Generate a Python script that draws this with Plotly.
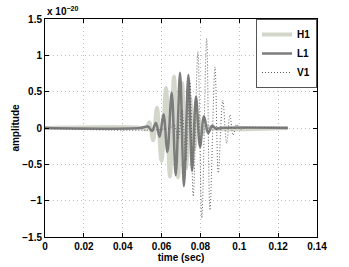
import plotly.graph_objects as go

# ---- data (amplitude in units of 1e-20) ----
t_end = 0.125

h1_t = [0.0, 0.0504, 0.0520, 0.0537, 0.0557, 0.0576, 0.0600, 0.0623, 0.0643, 0.0664,
        0.0685, 0.0705, 0.0726, 0.0746, 0.0767, 0.0787, 0.0808, 0.0829, 0.0849, t_end]
h1_a = [0.0, 0.0, -0.02, 0.08, -0.17, 0.28, -0.45, 0.55, -0.67, 0.71,
        -0.68, 0.62, -0.55, 0.42, -0.30, 0.17, -0.08, 0.03, 0.0, 0.0]

l1_t = [0.0, 0.0489, 0.0530, 0.0551, 0.0571, 0.0590, 0.0610, 0.0630, 0.0652, 0.0673,
        0.0695, 0.0715, 0.0738, 0.0757, 0.0777, 0.0798, 0.0818, 0.0840, 0.0860, 0.0880,
        0.0901, t_end]
l1_a = [0.0, 0.0, 0.02, -0.04, 0.07, -0.12, 0.19, -0.33, 0.49, -0.65,
        0.76, -0.80, 0.73, -0.59, 0.43, -0.26, 0.16, -0.07, 0.03, -0.01,
        0.0, 0.0]

v1_t = [0.0, 0.0643, 0.0664, 0.0685, 0.0705, 0.0726, 0.0746, 0.0763, 0.0787, 0.0807,
        0.0832, 0.0849, 0.0875, 0.0892, 0.0915, 0.0935, 0.0952, 0.0968, 0.0987, 0.1004,
        0.1024, t_end]
v1_a = [0.0, 0.0, 0.05, -0.15, 0.25, -0.45, 0.65, -0.94, 1.05, -1.24,
        1.23, -1.13, 0.84, -0.62, 0.38, -0.21, 0.18, -0.10, 0.05, -0.02,
        0.0, 0.0]

x_ticks = [0, 0.02, 0.04, 0.06, 0.08, 0.1, 0.12, 0.14]
x_ticktext = ["0", "0.02", "0.04", "0.06", "0.08", "0.1", "0.12", "0.14"]
y_ticks = [-1.5, -1, -0.5, 0, 0.5, 1, 1.5]
y_ticktext = ["\u22121.5", "\u22121", "\u22120.5", "0", "0.5", "1", "1.5"]

FONT = "Liberation Sans"
TXT = dict(family=FONT, size=10, color="black", weight="bold")

fig = go.Figure()
fig.add_trace(go.Scatter(x=h1_t, y=h1_a, name="H1", mode="lines",
                         line=dict(color="#d3d7cb", width=4, shape="spline", smoothing=1.0)))
fig.add_trace(go.Scatter(x=l1_t, y=l1_a, name="L1", mode="lines",
                         line=dict(color="#7c7c7c", width=2.5, shape="spline", smoothing=1.0)))
fig.add_trace(go.Scatter(x=v1_t, y=v1_a, name="V1", mode="lines",
                         line=dict(color="#5f5f5f", width=1, dash="1px,2px", shape="spline", smoothing=1.0)))

axis_common = dict(
    showline=True, linecolor="black", linewidth=1, mirror="ticks",
    ticks="inside", ticklen=4, tickcolor="black",
    showgrid=True, gridcolor="#bdbdbd", griddash="1px,3px", gridwidth=1,
    zeroline=False, automargin=False,
    tickfont=TXT,
)

fig.update_layout(
    width=349, height=267,
    margin=dict(l=45, r=32, t=19, b=30, autoexpand=False),
    paper_bgcolor="white", plot_bgcolor="white",
    font=dict(family=FONT, size=10, color="black"),
    showlegend=True,
    legend=dict(x=1, y=1, xanchor="right", yanchor="top",
                bgcolor="white", bordercolor="#555555", borderwidth=1,
                font=dict(family=FONT, size=10, color="black", weight="bold"),
                tracegroupgap=0, itemwidth=30),
    xaxis=dict(range=[0, 0.14], tickvals=x_ticks, ticktext=x_ticktext,
               title=dict(text="time (sec)", standoff=2, font=TXT),
               **axis_common),
    yaxis=dict(range=[-1.5, 1.5], tickvals=y_ticks, ticktext=y_ticktext,
               title=dict(text="amplitude", standoff=0, font=TXT),
               **axis_common),
    annotations=[dict(text="x 10<sup>\u221220</sup>", xref="paper", yref="paper",
                      x=0, y=1, xanchor="left", yanchor="bottom", showarrow=False,
                      font=TXT)],
)

fig.write_html("out.html", config={"displayModeBar": False},
               post_script="document.body.style.margin='0';document.body.style.padding='0';")
